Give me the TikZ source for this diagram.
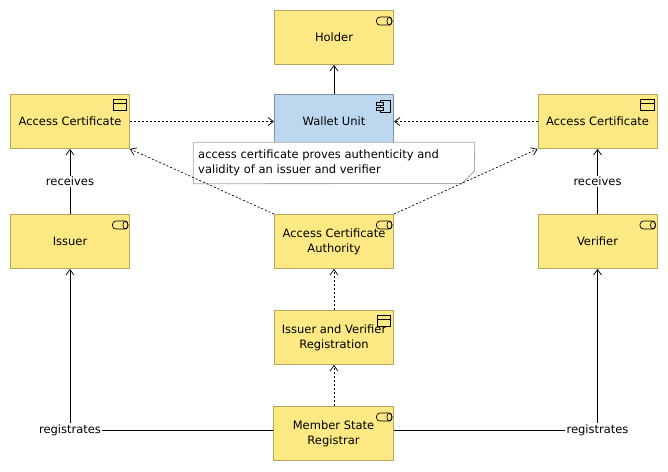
\documentclass[tikz,border=0pt]{standalone}
\usepackage{fontspec}
\setmainfont{DejaVu Sans}
\usetikzlibrary{arrows.meta}
\definecolor{boxyellow}{HTML}{FCE983}
\definecolor{edgeyellow}{HTML}{B5A65A}
\definecolor{boxblue}{HTML}{BDD7EE}
\definecolor{edgeblue}{HTML}{7F93A8}
\definecolor{notegray}{HTML}{ABABAB}
\tikzset{
  x=1pt,y=-1pt,
  elem/.style={draw=edgeyellow,fill=boxyellow,line width=0.9pt,minimum width=119pt,minimum height=54pt,inner sep=0pt,align=center,font=\fontsize{11.5}{15}\selectfont,text=black},
  bluebox/.style={elem,draw=edgeblue,fill=boxblue},
  solidarrow/.style={draw=black,line width=0.9pt,-{Straight Barb[length=5.5pt,width=8pt,line width=0.7pt]}},
  plainline/.style={draw=black,line width=0.9pt},
  dashedarrow/.style={draw=black,line width=0.7pt,dash pattern=on 2pt off 2pt,-{Straight Barb[length=5.5pt,width=8pt,line width=0.7pt]}},
  lbl/.style={fill=white,inner sep=1.5pt,font=\fontsize{11.5}{15}\selectfont,text=black},
  icon/.style={draw=black,line width=0.7pt},
  pics/roleicon/.style={code={
    \draw[icon,rounded corners=3.5pt] (-17.5,7) rectangle (-2,15);
    \draw[icon] (-4.5,11) ellipse[x radius=2.5pt,y radius=4pt];
  }},
  pics/objicon/.style={code={
    \draw[icon] (-17,5.5) rectangle (-3.5,16);
    \draw[icon] (-17,9) -- (-3.5,9);
  }},
  pics/compicon/.style={code={
    \draw[icon] (-14,6) rectangle (-4,18.5);
    \draw[icon,fill=boxblue] (-17.5,8.5) rectangle (-11,11.5);
    \draw[icon,fill=boxblue] (-17.5,13) rectangle (-11,16);
  }},
}
\begin{document}
\begin{tikzpicture}
\useasboundingbox (0,0) rectangle (668,471);
\node[elem] (holder) at (334,37.5) {Holder};
\node[bluebox] (wallet) at (334,121.5) {Wallet Unit};
\node[elem] (acl) at (70,121.5) {Access Certificate};
\node[elem] (acr) at (597.5,121.5) {Access Certificate};
\node[elem] (issuer) at (70,241.5) {Issuer};
\node[elem] (verifier) at (597.5,241.5) {Verifier};
\node[elem] (aca) at (334,241.5) {Access Certificate\\Authority};
\node[elem] (reg) at (334,337.5) {Issuer and Verifier\\Registration};
\node[elem,minimum width=120pt] (msr) at (333.5,433.5) {Member State\\Registrar};
\pic at (holder.north east) {roleicon};
\pic at (wallet.north east) {compicon};
\pic at (acl.north east) {objicon};
\pic at (acr.north east) {objicon};
\pic at (issuer.north east) {roleicon};
\pic at (verifier.north east) {roleicon};
\pic at (aca.north east) {roleicon};
\pic at (reg.north east) {objicon};
\pic at (msr.north east) {roleicon};
% note
\node[inner sep=0pt,minimum width=281pt,minimum height=41pt] (note) at (334,163) {};
\draw[draw=notegray,fill=white,line width=0.8pt] (note.north west) -- (note.north east) -- (474.5,171) -- (462,183.5) -- (note.south west) -- cycle;
\node[anchor=west,align=left,inner sep=0pt,font=\fontsize{11.5}{15}\selectfont] (notetext) at (198,163) {access certificate proves authenticity and\\validity of an issuer and verifier};
% connectors
\draw[solidarrow] (wallet.north) -- (holder.south);
\draw[dashedarrow] (acl.east) -- (wallet.west);
\draw[dashedarrow] (acr.west) -- (wallet.east);
\draw[dashedarrow] (aca.north west) -- (acl.south east);
\draw[dashedarrow] (aca.north east) -- (acr.south west);
\draw[dashedarrow] (reg.north) -- (aca.south);
\draw[dashedarrow] (msr.north -| reg.north) -- (reg.south);
\draw[solidarrow] (issuer.north) -- (acl.south);
\draw[solidarrow] (verifier.north) -- (acr.south);
\coordinate (cornerl) at (70,430.5);
\coordinate (cornerr) at (597.5,430.5);
\draw[plainline] (msr.west |- cornerl) -- (cornerl);
\draw[plainline] (msr.east |- cornerr) -- (cornerr);
\draw[solidarrow] (cornerl) -- (issuer.south);
\draw[solidarrow] (cornerr) -- (verifier.south);
\node[lbl] (recl) at (70,181.5) {receives};
\node[lbl] (recr) at (597.5,181.5) {receives};
\node[lbl] (regl) at (cornerl) {registrates};
\node[lbl] (regr) at (cornerr) {registrates};
\end{tikzpicture}
\end{document}
